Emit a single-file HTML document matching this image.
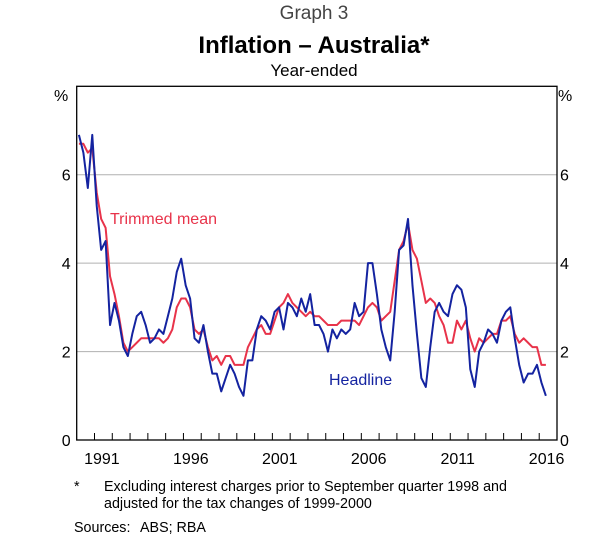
<!DOCTYPE html>
<html><head><meta charset="utf-8"><style>
html,body{margin:0;padding:0;background:#fff;width:611px;height:550px;overflow:hidden}
svg{display:block;font-family:"Liberation Sans",Arial,sans-serif}
</style></head><body>
<svg id="chart" width="611" height="550" viewBox="0 0 611 550">
<text x="314" y="19" text-anchor="middle" font-size="19" fill="#444">Graph 3</text>
<text x="314" y="53" text-anchor="middle" font-size="24" font-weight="bold" fill="#000">Inflation – Australia*</text>
<text x="314" y="76" text-anchor="middle" font-size="17" fill="#000">Year-ended</text>
<text x="54" y="101" font-size="16">%</text>
<text x="558" y="101" font-size="16">%</text>
<g id="grid"></g>
<g id="ticks"></g>
<g id="series"></g>
<rect x="76.7" y="86.3" width="480.3" height="353.7" fill="none" stroke="#000" stroke-width="1.3"/>
<text x="110" y="224" font-size="16" fill="#e8334a">Trimmed mean</text>
<text x="329" y="385" font-size="16" fill="#1423a0">Headline</text>
<text x="74" y="491" font-size="14.3">*</text>
<text x="104" y="491" font-size="14.3">Excluding interest charges prior to September quarter 1998 and</text>
<text x="104" y="508" font-size="14.3">adjusted for the tax changes of 1999-2000</text>
<text x="74" y="532" font-size="14.3">Sources:</text>
<text x="140" y="532" font-size="14.3">ABS; RBA</text>
</svg>
<script>
const startYear = 1990;
const yTicks = [0, 2, 4, 6];
const xLabels = [1991, 1996, 2001, 2006, 2011, 2016];
const headline = [6.9,6.5,5.7,6.9,5.3,4.3,4.5,2.6,3.1,2.7,2.1,1.9,2.4,2.8,2.9,2.6,2.2,2.3,2.5,2.4,2.8,3.2,3.8,4.1,3.5,3.2,2.3,2.2,2.6,2.0,1.5,1.5,1.1,1.4,1.7,1.5,1.2,1.0,1.8,1.8,2.5,2.8,2.7,2.5,2.9,3.0,2.5,3.1,3.0,2.8,
3.2,2.9,3.3,2.6,2.6,2.4,2.0,2.5,2.3,2.5,2.4,2.5,3.1,2.8,2.9,4.0,4.0,3.3,2.5,2.1,1.8,2.9,4.3,4.4,5.0,3.5,2.4,1.4,1.2,2.1,2.9,3.1,2.9,2.8,3.3,3.5,3.4,3.0,1.6,1.2,2.0,2.2,2.5,2.4,2.2,2.7,2.9,3.0,2.3,1.7,1.3,1.5,1.5,1.7,1.3,1.0];
const trimmedMean = [6.7,6.7,6.5,6.6,5.6,5.0,4.8,3.7,3.3,2.8,2.2,2.0,2.1,2.2,2.3,2.3,2.3,2.3,2.3,2.2,2.3,2.5,3.0,3.2,3.2,3.0,2.5,2.4,2.5,2.1,1.8,1.9,1.7,1.9,1.9,1.7,1.7,1.7,2.1,2.3,2.5,2.6,2.4,2.4,2.7,3.0,3.1,3.3,3.1,3.0,
2.9,2.8,2.9,2.8,2.8,2.7,2.6,2.6,2.6,2.7,2.7,2.7,2.7,2.6,2.8,3.0,3.1,3.0,2.7,2.8,2.9,3.6,4.3,4.5,4.9,4.3,4.1,3.6,3.1,3.2,3.1,2.8,2.6,2.2,2.2,2.7,2.5,2.7,2.3,2.0,2.3,2.2,2.3,2.4,2.4,2.7,2.7,2.8,2.4,2.2,2.3,2.2,2.1,2.1,1.7,1.7];

const X0 = 76.7, X1 = 557, Y0 = 440, Y1 = 86.3;
const xMin = 1990, xMax = 2017, yMin = 0, yMax = 8;
const NS = 'http://www.w3.org/2000/svg';
function xs(t){ return X0 + (t - xMin) / (xMax - xMin) * (X1 - X0); }
function ys(v){ return Y0 - (v - yMin) / (yMax - yMin) * (Y0 - Y1); }
function mk(tag, attrs, parent){ const e = document.createElementNS(NS, tag); for (const k in attrs) e.setAttribute(k, attrs[k]); parent.appendChild(e); return e; }

const grid = document.getElementById('grid');
const ticks = document.getElementById('ticks');
yTicks.forEach(v => {
  if (v > 0) {
    const g = mk('line', {x1: X0, x2: X1, y1: ys(v), y2: ys(v), stroke: '#b0b0b0', 'stroke-width': 1}, grid);
    
    
  }
  const l = mk('text', {x: X0 - 6, y: ys(v) + 6, 'text-anchor': 'end', 'font-size': 16}, ticks);
  l.textContent = v;
  
  
  const r = mk('text', {x: X1 + 3, y: ys(v) + 6, 'font-size': 16}, ticks);
  r.textContent = v;
  
  
});
for (let yr = xMin + 1; yr < xMax; yr++) {
  const t = mk('line', {x1: xs(yr), x2: xs(yr), y1: Y0, y2: Y0 - 7, stroke: '#000', 'stroke-width': 1}, ticks);
  
  
}
xLabels.forEach(yr => {
  const t = mk('text', {x: xs(yr + 0.5) - 1.5, y: 464, 'text-anchor': 'middle', 'font-size': 16}, ticks);
  t.textContent = yr;
  
  
});
function pathFor(arr){ return arr.map((v, i) => (i ? 'L' : 'M') + xs(startYear + (i + 0.5) / 4).toFixed(2) + ',' + ys(v).toFixed(2)).join(''); }
const series = document.getElementById('series');
const pt = mk('path', {d: pathFor(trimmedMean), fill: 'none', stroke: '#e8334a', 'stroke-width': 2, 'stroke-linejoin': 'round'}, series);


const ph = mk('path', {d: pathFor(headline), fill: 'none', stroke: '#1423a0', 'stroke-width': 2, 'stroke-linejoin': 'round'}, series);


</script>
</body></html>
